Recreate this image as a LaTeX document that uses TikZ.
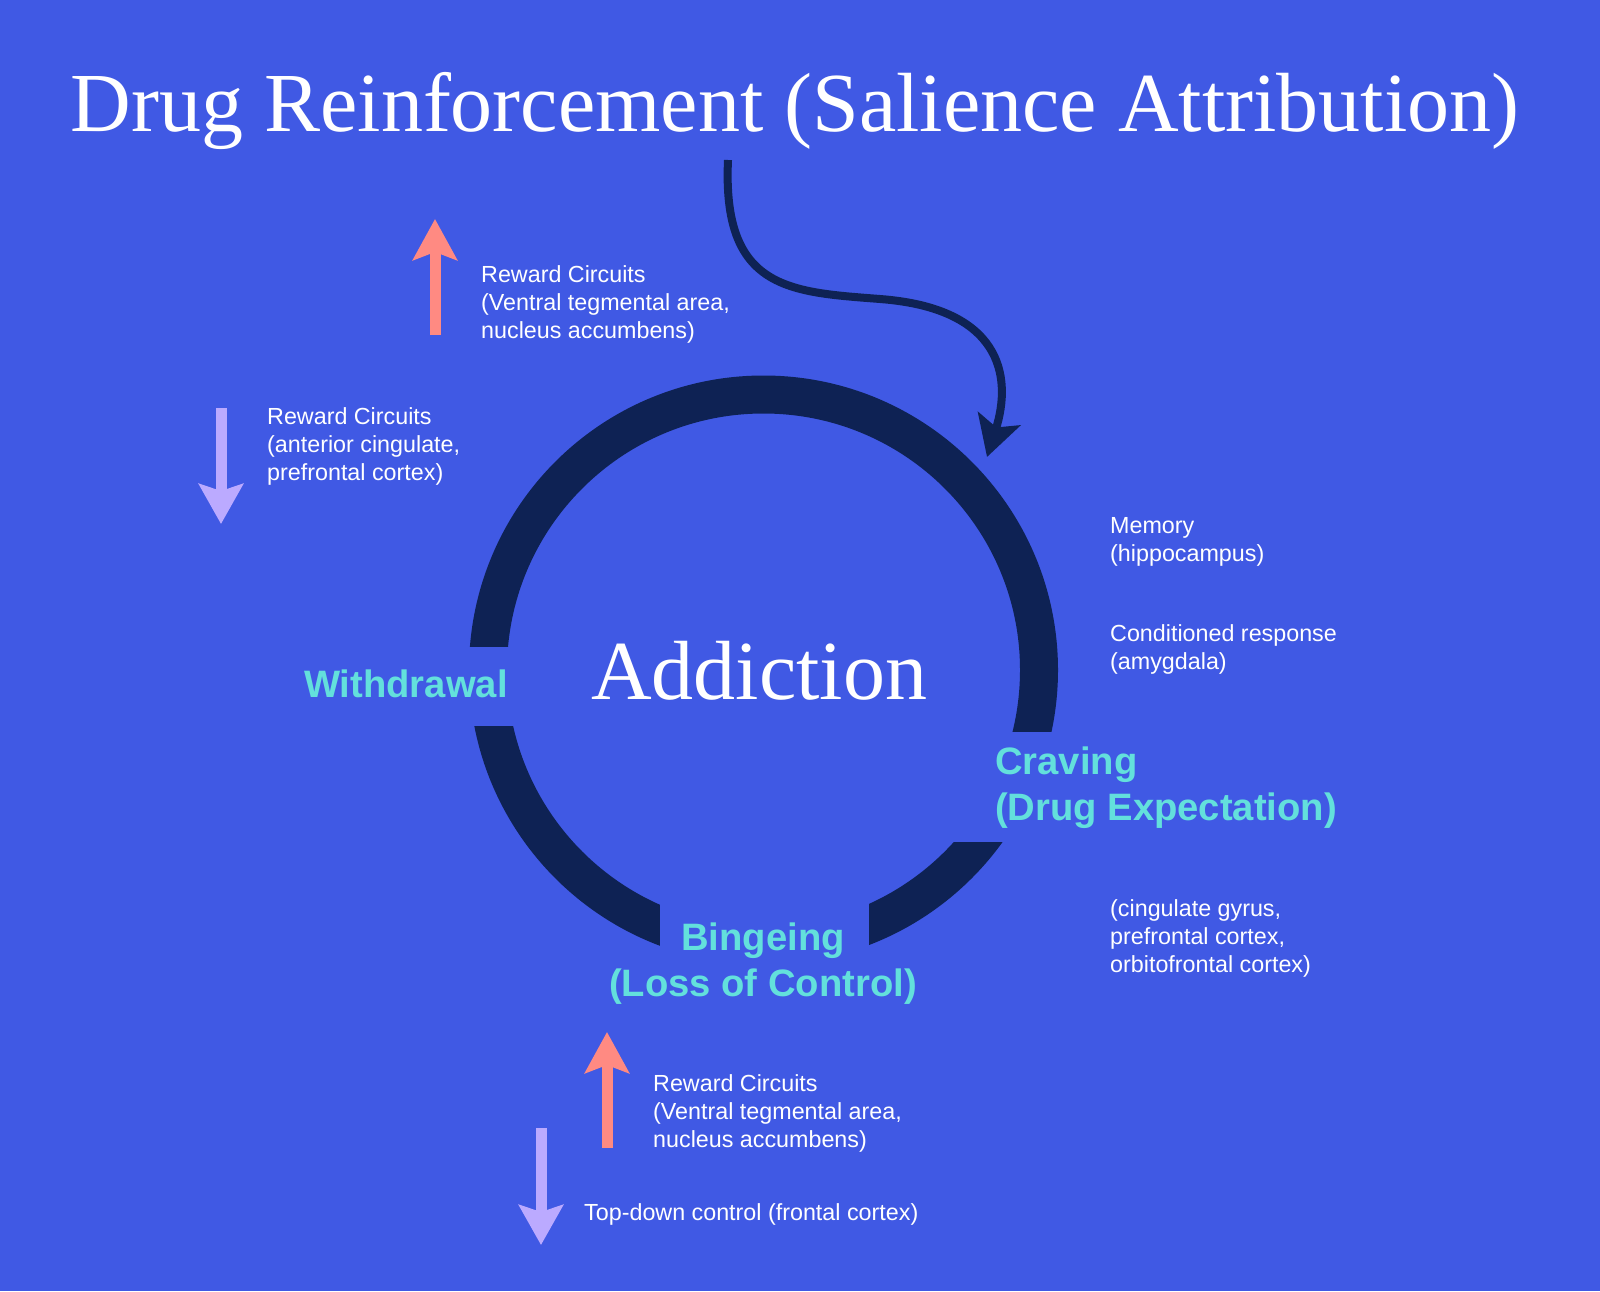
\documentclass[tikz,border=0pt]{standalone}
\usepackage{fontspec}
\setmainfont{Liberation Serif}
\setsansfont{Liberation Sans}
\usetikzlibrary{arrows.meta}
\definecolor{addbg}{RGB}{64,89,228}
\definecolor{addnavy}{RGB}{14,34,84}
\definecolor{addcyan}{RGB}{99,224,220}
\definecolor{addsalmon}{RGB}{255,138,130}
\definecolor{addlilac}{RGB}{187,170,255}

\begin{document}
\begin{tikzpicture}[x=1pt,y=-1pt,
    circuit/.style={font=\sffamily\fontsize{23.3}{28}\selectfont,text=white,align=left,anchor=north west,inner sep=0pt},
    stage/.style={font=\sffamily\bfseries\fontsize{38.2}{46}\selectfont,text=addcyan,inner sep=0pt},
    headline/.style={font=\fontsize{84}{90}\selectfont,text=white,inner sep=0pt,anchor=base},
    risearrow/.style={addsalmon,line width=11pt,-{Stealth[length=41pt,width=44pt,inset=8pt]}},
    fallarrow/.style={addlilac,line width=11pt,-{Stealth[length=40pt,width=44pt,inset=7pt]}}]
  \fill[addbg] (0,0) rectangle (1600,1291);
  % cycle ring, then its three openings
  \draw[addnavy,line width=38pt] (763.5,670) circle[radius=275.5];
  \fill[addbg] (450,647) rectangle (530,726);
  \fill[addbg] (935,732) rectangle (1080,842);
  \fill[addbg] (660,890) rectangle (869,980);

  \node[headline] (title) at (795,131) {Drug Reinforcement (Salience Attribution)};
  \node[headline] (addiction) at (759,699) {Addiction};

  \coordinate (drugIn) at (728,160);
  \coordinate (ringIn) at (987,457);
  \draw[addnavy,line width=8pt,-{Stealth[length=40pt,width=44pt,inset=9pt]}]
    (drugIn) .. controls (722,290) and (790,292) .. (880,299)
    .. controls (1000,308) and (1013,375) .. (ringIn);

  % stages
  \node[stage,anchor=base west] (withdrawal) at (304,697) {Withdrawal};
  \node[stage,align=left,anchor=north west] (craving) at (995,746.5) {Craving\\(Drug Expectation)};
  \node[stage,align=center,anchor=north] (binge) at (763,922.5) {Bingeing\\(Loss of Control)};

  % brain circuits
  \coordinate (riseA0) at (435,335);  \coordinate (riseA1) at (435,219);
  \coordinate (fallA0) at (221,408);  \coordinate (fallA1) at (221,524);
  \coordinate (riseB0) at (607,1148); \coordinate (riseB1) at (607,1032);
  \coordinate (fallB0) at (541,1128); \coordinate (fallB1) at (541,1245);
  \draw[risearrow] (riseA0) -- (riseA1);
  \draw[fallarrow] (fallA0) -- (fallA1);
  \draw[risearrow] (riseB0) -- (riseB1);
  \draw[fallarrow] (fallB0) -- (fallB1);
  \node[circuit] (vtaTop) at (481,265) {Reward Circuits\\(Ventral tegmental area,\\nucleus accumbens)};
  \node[circuit] (cingulate) at (267,407.5) {Reward Circuits\\(anterior cingulate,\\prefrontal cortex)};
  \node[circuit] (memory) at (1110,517) {Memory\\(hippocampus)};
  \node[circuit] (conditioned) at (1110,624.5) {Conditioned response\\(amygdala)};
  \node[circuit] (orbito) at (1110,899.5) {(cingulate gyrus,\\prefrontal cortex,\\orbitofrontal cortex)};
  \node[circuit] (vtaLow) at (653,1074.5) {Reward Circuits\\(Ventral tegmental area,\\nucleus accumbens)};
  \node[circuit] (topdown) at (584,1203.5) {Top-down control (frontal cortex)};
\end{tikzpicture}
\end{document}
